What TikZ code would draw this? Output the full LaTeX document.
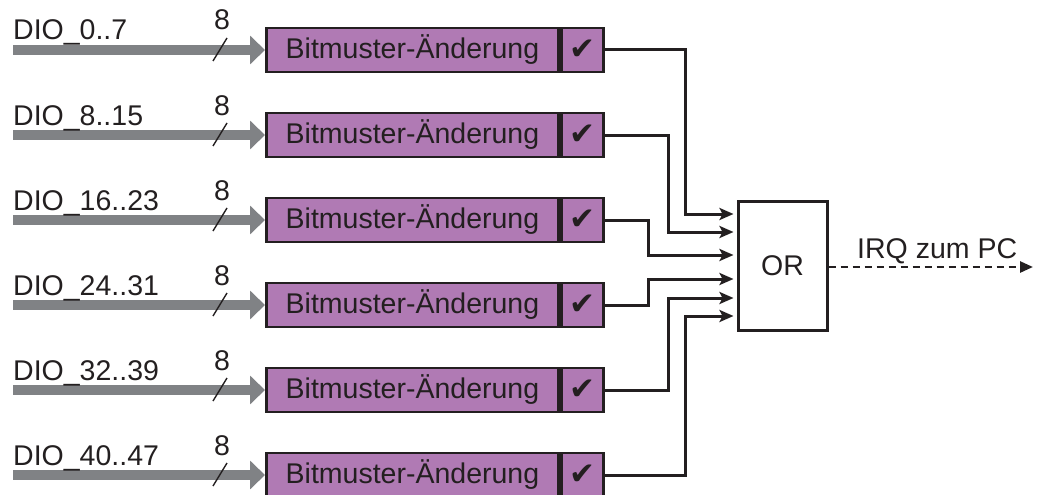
\documentclass[tikz,border=0pt]{standalone}
\usepackage{fontspec}
\setmainfont{Liberation Sans}
\newfontfamily\symfont{DejaVu Sans}
\usetikzlibrary{arrows.meta}
\definecolor{ink}{RGB}{35,31,32}
\definecolor{bmfill}{RGB}{176,122,180}
\definecolor{busgray}{RGB}{128,130,133}

\begin{document}
\begin{tikzpicture}[x=1pt, y=-1pt,
  font=\fontsize{28.5}{31}\selectfont, text=ink,
  bmbox/.style={draw=ink, line width=2.9pt, fill=bmfill, minimum width=292pt,
    minimum height=44pt, inner sep=0pt, anchor=west},
  ckbox/.style={draw=ink, line width=2.9pt, fill=bmfill, minimum width=42pt,
    minimum height=44pt, inner sep=0pt, anchor=west,
    font=\symfont\fontsize{31}{33}\selectfont},
  bus/.style={busgray, line width=10.5pt, -{Triangle[length=15pt,width=28pt]}},
  sig/.style={ink, line width=3pt, shorten >=3pt,
    -{Stealth[length=14pt,width=12pt,inset=3pt]}},
  buslabel/.style={anchor=base west, inner sep=0pt},
  widthmark/.style={ink, line width=1.4pt},
  gate/.style={draw=ink, line width=3pt, minimum width=89pt,
    minimum height=129pt, inner sep=0pt},
  irq/.style={ink, line width=2.6pt, dash pattern=on 7pt off 5pt,
    -{Triangle[length=13pt,width=11pt]}}
]
\useasboundingbox (0,0) rectangle (1041,495);

% OR gate collecting the change interrupts
\node[gate] (or) at (782.5,265.5) {OR};
\coordinate (pc) at (1033,267);
\draw[irq] (or.east |- pc) -- (pc);
\node[anchor=base west, inner sep=0pt] (irqlab) at (857,258) {IRQ zum PC};

% six 8-bit port groups with pattern-change detection
\foreach \i/\lab/\vx/\ty in {1/DIO\_0..7/685/214, 2/DIO\_8..15/668/232,
    3/DIO\_16..23/648/255, 4/DIO\_24..31/648/279,
    5/DIO\_32..39/668/298, 6/DIO\_40..47/685/316}{
  \pgfmathsetmacro{\ry}{50+(\i-1)*85}
  \coordinate (in\i) at (13,\ry);
  \node[bmbox] (bm\i) at (265,\ry) {Bitmuster-Änderung\hspace{8pt}};
  \node[ckbox] (ck\i) at (bm\i.east) {✔};
  \draw[bus] (in\i) -- (bm\i.west);
  \node[buslabel] (lab\i) at (13,\ry-10) {\lab};
  \node[anchor=base, inner sep=0pt] (w\i) at (222,\ry-20) {8};
  \draw[widthmark] (213,\ry+11) -- (227,\ry-12);
  \coordinate (t\i) at (0,\ty);
  \draw[sig] (ck\i.east) -| (\vx,\ty) -- (or.west |- t\i);
}
\end{tikzpicture}
\end{document}
